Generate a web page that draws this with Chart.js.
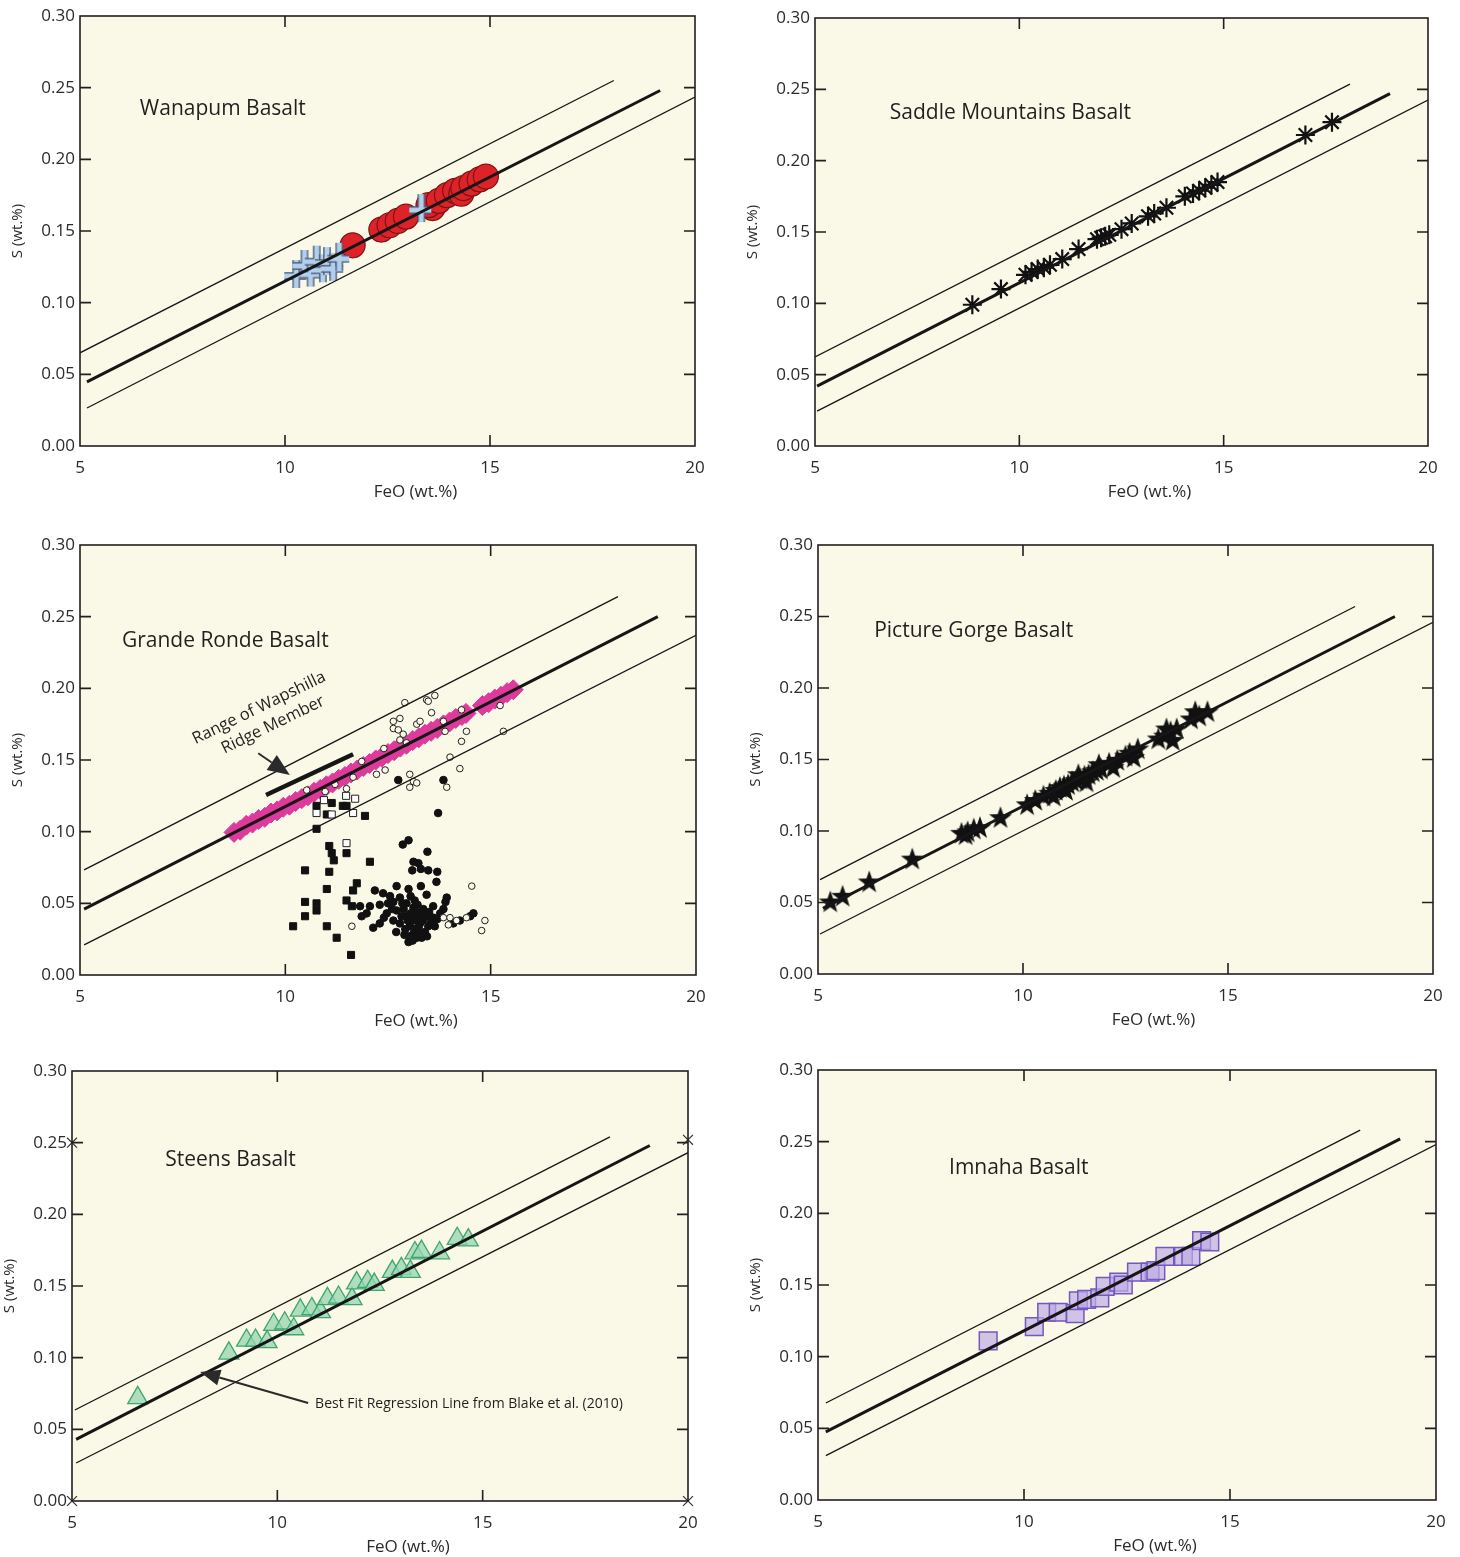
<!DOCTYPE html>
<html><head><meta charset="utf-8">
<script src="https://cdn.jsdelivr.net/npm/chart.js@4.4.1/dist/chart.umd.min.js"></script>
<style>
html,body{margin:0;padding:0;background:#fff;}
body{width:1460px;height:1557px;position:relative;overflow:hidden;}
canvas{position:absolute;}
</style></head>
<body>
<script>
// ---------- axis / tick data ----------
const xTickValues = [5, 10, 15, 20];
const xTickLabels = ['5', '10', '15', '20'];
const yTickValues = [0, 0.05, 0.10, 0.15, 0.20, 0.25, 0.30];
const yTickLabels = ['0.00', '0.05', '0.10', '0.15', '0.20', '0.25', '0.30'];
const xTitle = 'FeO (wt.%)';
const yTitle = 'S (wt.%)';
const panelTitles = ['Wanapum Basalt', 'Saddle Mountains Basalt', 'Grande Ronde Basalt',
                     'Picture Gorge Basalt', 'Steens Basalt', 'Imnaha Basalt'];

// ---------- regression line (Blake et al. 2010) and bounds, per panel [FeO, S] ----------
const wanMain = [[5.17, 0.0447], [19.15, 0.248]];
const wanUpper = [[5.0, 0.065], [18.02, 0.255]];
const wanLower = [[5.17, 0.0265], [20.0, 0.2435]];
const sadMain = [[5.05, 0.042], [19.07, 0.247]];
const sadUpper = [[5.0, 0.0624], [18.09, 0.2537]];
const sadLower = [[5.05, 0.0245], [20.0, 0.2425]];
const grMain = [[5.1, 0.046], [19.07, 0.25]];
const grUpper = [[5.1, 0.0733], [18.1, 0.264]];
const grLower = [[5.1, 0.021], [20.0, 0.237]];
const pgMain = [[5.12, 0.046], [19.07, 0.25]];
const pgUpper = [[5.05, 0.066], [18.1, 0.257]];
const pgLower = [[5.05, 0.028], [20.0, 0.246]];
const stMain = [[5.1, 0.043], [19.07, 0.248]];
const stUpper = [[5.07, 0.0635], [18.1, 0.254]];
const stLower = [[5.1, 0.0265], [20.0, 0.243]];
const imMain = [[5.19, 0.0475], [19.13, 0.252]];
const imUpper = [[5.19, 0.0677], [18.16, 0.258]];
const imLower = [[5.19, 0.031], [20.0, 0.248]];

// ---------- sample data [FeO, S] ----------
const wanapumRed = [[11.65,0.140],[12.35,0.151],[12.55,0.154],[12.75,0.157],[12.95,0.160],[13.6,0.166],
  [13.5,0.168],[13.75,0.171],[13.95,0.175],[14.15,0.178],[14.3,0.176],[14.35,0.180],[14.55,0.183],
  [14.75,0.186],[14.9,0.188]];
const wanapumBlue = [[10.25,0.120],[10.45,0.127],[10.6,0.121],[10.75,0.130],[10.9,0.124],[11.0,0.129],
  [11.15,0.125],[11.3,0.132],[13.3,0.166]];
const wanapumBlueBehind = [[12.7,0.156]];
const saddleAsterisk = [[8.85,0.099],[9.55,0.110],[10.15,0.120],[10.3,0.122],[10.45,0.124],[10.6,0.125],
  [10.75,0.127],[11.05,0.131],[11.45,0.138],[11.9,0.145],[12.0,0.146],[12.1,0.147],[12.2,0.148],
  [12.5,0.152],[12.75,0.156],[13.15,0.161],[13.3,0.163],[13.6,0.167],[14.05,0.175],[14.25,0.177],
  [14.4,0.179],[14.55,0.181],[14.7,0.183],[14.85,0.185],[17.0,0.218],[17.65,0.227]];
const grMagenta = [[8.75,0.0995],[8.9,0.1010],[9.05,0.1045],[9.2,0.1060],[9.35,0.1085],[9.5,0.1100],
  [9.65,0.1130],[9.8,0.1145],[9.95,0.1170],[10.1,0.1185],[10.25,0.1210],[10.4,0.1230],[10.55,0.1250],
  [10.7,0.1275],[10.85,0.1295],[11.0,0.1320],[11.15,0.1340],[11.3,0.1365],[11.45,0.1385],[11.6,0.1410],
  [11.75,0.1430],[11.9,0.1455],[12.05,0.1475],[12.2,0.1500],[12.35,0.1520],[12.5,0.1545],[12.65,0.1565],
  [12.8,0.1590],[12.95,0.1610],[13.1,0.1635],[13.25,0.1655],[13.4,0.1680],[13.55,0.1700],[13.7,0.1720],
  [13.85,0.1745],[14.0,0.1765],[14.15,0.1790],[14.3,0.1810],[14.4,0.1825],[14.8,0.1880],[14.95,0.1900],
  [15.1,0.1925],[15.25,0.1945],[15.4,0.1970],[15.55,0.1990]];
const grOpenCircle = [[12.91,0.190],[13.44,0.192],[13.64,0.195],[13.48,0.191],[12.63,0.177],[12.79,0.179],
  [12.63,0.172],[12.75,0.171],[12.87,0.168],[13.2,0.175],[13.28,0.177],[13.56,0.183],[14.29,0.185],
  [14.41,0.170],[14.29,0.163],[14.01,0.152],[14.25,0.144],[13.89,0.170],[13.85,0.177],[12.79,0.164],
  [12.95,0.162],[12.40,0.158],[11.86,0.149],[12.22,0.140],[12.43,0.143],[11.65,0.138],[11.21,0.133],
  [10.97,0.128],[10.52,0.129],[11.49,0.130],[13.03,0.140],[13.12,0.135],[13.2,0.134],[13.03,0.131],
  [13.93,0.131],[15.23,0.188],[15.31,0.170],[14.54,0.062],[13.85,0.040],[14.01,0.040],[14.17,0.038],
  [14.41,0.040],[14.86,0.038],[14.78,0.031],[13.97,0.035],[11.62,0.034]];
const grOpenSquare = [[10.76,0.113],[11.13,0.112],[11.48,0.125],[11.7,0.123],[11.65,0.113],[11.49,0.092],
  [10.94,0.122]];
const grFilledSquare = [[10.76,0.118],[11.13,0.120],[11.40,0.118],[11.49,0.118],[11.01,0.112],[11.94,0.111],
  [10.76,0.102],[11.07,0.090],[11.13,0.085],[11.18,0.080],[11.49,0.085],[12.06,0.079],[10.48,0.073],
  [11.07,0.072],[11.01,0.060],[10.48,0.051],[10.76,0.050],[10.76,0.045],[10.48,0.041],[10.19,0.034],
  [11.01,0.034],[11.25,0.026],[11.6,0.014],[11.65,0.059],[11.74,0.064],[11.49,0.052],[11.62,0.048]];
const grFilledCircle = [[13.0,0.094],[12.86,0.091],[13.46,0.086],[13.72,0.113],[12.75,0.136],[13.85,0.136],
  [13.12,0.079],[13.24,0.078],[13.30,0.074],[13.48,0.073],[13.70,0.072],[13.09,0.073],[13.68,0.065],
  [12.71,0.062],[13.44,0.056],[13.93,0.054],[13.90,0.051],[12.18,0.059],[12.38,0.057],[12.55,0.055],
  [12.06,0.048],[12.30,0.049],[12.63,0.051],[12.79,0.054],[12.95,0.050],[13.12,0.047],[13.28,0.043],
  [13.44,0.041],[13.60,0.040],[12.95,0.041],[12.79,0.036],[13.03,0.034],[13.12,0.029],[13.28,0.030],
  [13.0,0.023],[13.20,0.026],[12.63,0.038],[12.30,0.036],[12.14,0.033],[11.86,0.041],[11.98,0.043],
  [11.82,0.048],[12.47,0.043],[13.60,0.048],[13.77,0.043],[14.09,0.036],[14.25,0.038],[14.5,0.041],
  [14.58,0.043],[12.71,0.045],[12.83,0.041],[13.12,0.038],[13.28,0.036],[13.48,0.034],[13.64,0.034],
  [13.05,0.043],[13.2,0.040],[13.36,0.046],[13.15,0.052],[12.9,0.028],[13.1,0.024],
  [12.88,0.046],[12.98,0.038],[13.08,0.041],[13.18,0.044],[13.25,0.034],[13.35,0.038],[13.4,0.030],
  [12.92,0.032],[13.02,0.027],[13.15,0.032],[13.32,0.026],[12.85,0.050],[13.05,0.055],[13.22,0.049],
  [13.5,0.044],[13.55,0.037],[13.7,0.039],[12.6,0.046],[12.5,0.050],[12.4,0.040],[13.0,0.060],
  [13.3,0.062],[12.7,0.030],[13.45,0.027],[13.85,0.046]];
const wapshillaRange = [[9.53, 0.1256], [11.65, 0.154]];
const pictureGorgeStar = [[5.3,0.050],[5.6,0.054],[6.25,0.064],[7.3,0.080],[8.5,0.098],[8.65,0.099],
  [8.8,0.101],[8.95,0.102],[8.6,0.097],[9.45,0.109],[10.1,0.118],[10.3,0.121],[10.5,0.124],[10.65,0.126],
  [10.8,0.128],[10.9,0.130],[11.0,0.131],[11.1,0.132],[11.2,0.134],[11.3,0.135],[11.4,0.136],[11.5,0.138],
  [11.6,0.139],[11.7,0.141],[11.8,0.142],[11.9,0.143],[12.1,0.147],[12.3,0.149],[12.5,0.152],[12.6,0.154],
  [12.8,0.157],[13.3,0.164],[13.45,0.166],[13.6,0.169],[13.75,0.171],[14.1,0.178],[14.3,0.180],[14.5,0.183],
  [10.75,0.124],[11.05,0.128],[11.35,0.139],[11.55,0.134],[11.85,0.146],[12.2,0.144],[12.7,0.151],
  [13.5,0.171],[13.65,0.163],[14.2,0.183]];
const steensTriangle = [[6.60,0.072],[8.82,0.103],[9.25,0.112],[9.47,0.112],[9.75,0.111],[9.91,0.123],
  [10.18,0.124],[10.40,0.120],[10.56,0.133],[10.84,0.134],[11.05,0.132],[11.22,0.141],[11.49,0.142],
  [11.82,0.141],[11.93,0.152],[12.2,0.153],[12.36,0.151],[12.8,0.160],[13.02,0.162],[13.24,0.160],
  [13.35,0.173],[13.51,0.174],[13.95,0.173],[14.38,0.183],[14.65,0.182]];
const steensCornerMarks = [[5, 0.25], [20, 0.252], [5, 0], [20, 0]];
const imnahaSquare = [[9.13,0.111],[10.25,0.121],[10.55,0.131],[10.83,0.131],[11.24,0.130],[11.32,0.139],
  [11.52,0.140],[11.84,0.141],[11.97,0.149],[12.3,0.152],[12.41,0.150],[12.73,0.159],[13.06,0.159],
  [13.2,0.160],[13.42,0.170],[13.87,0.170],[14.05,0.170],[14.31,0.181],[14.51,0.180]];

// ---------- styles ----------
const FONT = '"Open Sans", "Noto Sans", "DejaVu Sans", sans-serif';
const BG = '#FAF8E7';
const INK = '#231F20';
Chart.defaults.font.family = FONT;

function makeStar() {
  const c = document.createElement('canvas'); c.width = 26; c.height = 26;
  const g = c.getContext('2d'); g.translate(13, 13); g.beginPath();
  for (let i = 0; i < 10; i++) {
    const r = i % 2 ? 4.8 : 12; const a = -Math.PI / 2 + i * Math.PI / 5;
    g.lineTo(r * Math.cos(a), r * Math.sin(a));
  }
  g.closePath(); g.fillStyle = '#111'; g.fill(); return c;
}
function makeBlueCross() {
  const c = document.createElement('canvas'); c.width = 40; c.height = 40;
  const g = c.getContext('2d'); g.translate(20, 20);
  const path = () => { g.beginPath(); g.moveTo(-11, 2); g.lineTo(11, 2); g.moveTo(1, -14); g.lineTo(1, 14); };
  g.lineCap = 'butt';
  path(); g.strokeStyle = '#45536B'; g.lineWidth = 7.5; g.stroke();
  path(); g.strokeStyle = '#B2D0EE'; g.lineWidth = 5; g.stroke();
  return c;
}
const starImg = makeStar();
const blueImg = makeBlueCross();

const pts = a => a.map(([x, y]) => ({x, y}));
const lineDs = (a, w) => ({data: pts(a), showLine: true, borderColor: '#161616', borderWidth: w,
  pointRadius: 0, fill: false});
const markDs = (a, s) => Object.assign({data: pts(a)}, s);

// ---------- plugin: plot background, frame, inward ticks, annotations ----------
const framePlugin = {
  id: 'frame',
  beforeDatasetsDraw(chart) {
    const {ctx, chartArea: a} = chart;
    ctx.save(); ctx.fillStyle = BG; ctx.fillRect(a.left, a.top, a.right - a.left, a.bottom - a.top); ctx.restore();
  },
  afterDraw(chart, args, opts) {
    const {ctx, chartArea: a, scales: {x, y}} = chart;
    ctx.save();
    ctx.strokeStyle = INK; ctx.lineWidth = 1.6;
    ctx.strokeRect(a.left, a.top, a.right - a.left, a.bottom - a.top);
    const L = 11; ctx.beginPath();
    x.ticks.forEach(t => { if (t.value <= x.min || t.value >= x.max) return;
      const p = x.getPixelForValue(t.value);
      ctx.moveTo(p, a.bottom); ctx.lineTo(p, a.bottom - L); ctx.moveTo(p, a.top); ctx.lineTo(p, a.top + L); });
    y.ticks.forEach(t => { if (t.value <= y.min || t.value >= y.max) return;
      const p = y.getPixelForValue(t.value);
      ctx.moveTo(a.left, p); ctx.lineTo(a.left + L, p); ctx.moveTo(a.right, p); ctx.lineTo(a.right - L, p); });
    ctx.stroke();
    // x axis title (offset right of centre as in the original figure)
    ctx.fillStyle = '#2b2b2b'; ctx.font = '17px ' + FONT; ctx.textAlign = 'center'; ctx.textBaseline = 'middle';
    ctx.fillText(xTitle, (a.left + a.right) / 2 + 28, a.bottom + 46);
    ctx.fillStyle = INK;
    (opts.texts || []).forEach(t => {
      ctx.save();
      ctx.translate(x.getPixelForValue(t.x), y.getPixelForValue(t.y));
      ctx.rotate((t.rot || 0) * Math.PI / 180);
      ctx.font = (t.size || 21) + 'px ' + FONT;
      ctx.textAlign = t.align || 'left'; ctx.textBaseline = 'middle';
      ctx.fillText(t.t, 0, 0);
      ctx.restore();
    });
    (opts.arrows || []).forEach(ar => {
      const x1 = x.getPixelForValue(ar.from[0]), y1 = y.getPixelForValue(ar.from[1]);
      const x2 = x.getPixelForValue(ar.to[0]), y2 = y.getPixelForValue(ar.to[1]);
      const ang = Math.atan2(y2 - y1, x2 - x1), hl = ar.head || 20, hw = ar.hw || 8;
      const bx = x2 - hl * Math.cos(ang), by = y2 - hl * Math.sin(ang);
      ctx.strokeStyle = '#2a2a2a'; ctx.lineWidth = 2;
      ctx.beginPath(); ctx.moveTo(x1, y1); ctx.lineTo(bx, by); ctx.stroke();
      ctx.fillStyle = '#2a2a2a'; ctx.beginPath(); ctx.moveTo(x2, y2);
      ctx.lineTo(bx + hw * Math.sin(ang), by - hw * Math.cos(ang));
      ctx.lineTo(bx - hw * Math.sin(ang), by + hw * Math.cos(ang)); ctx.closePath(); ctx.fill();
    });
    ctx.restore();
  }
};

// ---------- panel layout: plot area [left, top, right, bottom] in page pixels ----------
const boxes = [[80, 16, 695, 446], [815, 18, 1428, 446], [80, 545, 696, 975],
               [818, 545, 1433, 974], [72, 1071, 688, 1501], [818, 1070, 1436, 1500]];
const PADL = 80, PADT = 20, PADR = 30, PADB = 70;

function makeChart(i, datasets, extra) {
  const [l, t, r, b] = boxes[i];
  const cv = document.createElement('canvas');
  cv.width = (r - l) + PADL + PADR; cv.height = (b - t) + PADT + PADB;
  cv.style.left = (l - PADL) + 'px'; cv.style.top = (t - PADT) + 'px';
  document.body.appendChild(cv);
  const tickFont = {size: 17, family: FONT};
  new Chart(cv, {
    type: 'scatter',
    data: {datasets},
    options: {
      responsive: false, animation: false, events: [],
      layout: {padding: {top: PADT, right: PADR, left: 0, bottom: 0}},
      plugins: {legend: {display: false}, tooltip: {enabled: false},
        frame: {texts: [{t: panelTitles[i], x: extra.title[0], y: extra.title[1], size: 21}].concat(extra.texts || []),
                arrows: extra.arrows || []}},
      scales: {
        x: {type: 'linear', min: 5, max: 20,
          afterBuildTicks: s => { s.ticks = xTickValues.map(v => ({value: v})); },
          afterFit: s => { s.height = PADB; },
          ticks: {callback: (v, k) => xTickLabels[k], padding: 12, font: tickFont, color: '#2b2b2b', maxRotation: 0, autoSkip: false},
          grid: {display: false, drawTicks: false}, border: {display: false},
          title: {display: false}},
        y: {type: 'linear', min: 0, max: 0.30,
          afterBuildTicks: s => { s.ticks = yTickValues.map(v => ({value: v})); },
          afterFit: s => { s.width = PADL; },
          ticks: {callback: (v, k) => yTickLabels[k], padding: 5, font: tickFont, color: '#2b2b2b', autoSkip: false},
          grid: {display: false, drawTicks: false}, border: {display: false},
          title: {display: true, text: yTitle, font: {size: 15, family: FONT}, color: '#2b2b2b', padding: {top: 9, bottom: 0}}}
      }
    },
    plugins: [framePlugin]
  });
}

// Wanapum
makeChart(0, [
  lineDs(wanMain, 3), lineDs(wanUpper, 1.3), lineDs(wanLower, 1.3),
  markDs(wanapumBlue, {pointStyle: blueImg, pointRadius: 12}),
  markDs(wanapumRed, {pointStyle: 'circle', pointRadius: 12.5, backgroundColor: '#DD2328', borderColor: '#7E1216', borderWidth: 1.2}),
  markDs(wanapumBlueBehind, {pointStyle: blueImg, pointRadius: 12, pointRotation: 45})
], {title: [6.46, 0.235]});

// Saddle Mountains
makeChart(1, [
  lineDs(sadMain, 3), lineDs(sadUpper, 1.3), lineDs(sadLower, 1.3),
  markDs(saddleAsterisk, {pointStyle: 'star', pointRadius: 9.5, borderColor: '#111', borderWidth: 2.2, backgroundColor: '#111'})
], {title: [6.83, 0.2334]});

// Grande Ronde
makeChart(2, [
  lineDs(grMain, 3), lineDs(grUpper, 1.3), lineDs(grLower, 1.3), lineDs(wapshillaRange, 4.5),
  markDs(grOpenCircle, {pointStyle: 'circle', pointRadius: 3.3, backgroundColor: BG, borderColor: '#222', borderWidth: 1}),
  markDs(grOpenSquare, {pointStyle: 'rect', pointRadius: 5, backgroundColor: '#fff', borderColor: '#222', borderWidth: 1}),
  markDs(grFilledCircle, {pointStyle: 'circle', pointRadius: 3.8, backgroundColor: '#111', borderColor: '#111', borderWidth: 1}),
  markDs(grFilledSquare, {pointStyle: 'rect', pointRadius: 5, backgroundColor: '#111', borderColor: '#111', borderWidth: 1}),
  markDs(grMagenta, {pointStyle: 'rectRot', pointRadius: 10, backgroundColor: '#DE3A9C', borderColor: '#DE3A9C', borderWidth: 1})
], {title: [6.02, 0.233],
    texts: [{t: 'Range of Wapshilla', x: 9.36, y: 0.1863, rot: -26, size: 16.5, align: 'center'},
            {t: 'Ridge Member', x: 9.70, y: 0.1745, rot: -26, size: 16.5, align: 'center'}],
    arrows: [{from: [9.34, 0.1547], to: [10.11, 0.1396], head: 22, hw: 9}]});

// Picture Gorge
makeChart(3, [
  lineDs(pgMain, 3), lineDs(pgUpper, 1.3), lineDs(pgLower, 1.3),
  markDs(pictureGorgeStar, {pointStyle: starImg, pointRadius: 12})
], {title: [6.37, 0.240]});

// Steens
makeChart(4, [
  lineDs(stMain, 3), lineDs(stUpper, 1.3), lineDs(stLower, 1.3),
  markDs(steensCornerMarks, {pointStyle: 'crossRot', pointRadius: 7, borderColor: '#333', borderWidth: 1.2, clip: false}),
  markDs(steensTriangle, {pointStyle: 'triangle', pointRadius: 11.5, backgroundColor: 'rgba(150,214,178,0.75)', borderColor: '#3FA56E', borderWidth: 1.3})
], {title: [7.27, 0.238],
    texts: [{t: 'Best Fit Regression Line from Blake et al. (2010)', x: 10.92, y: 0.068, size: 14}],
    arrows: [{from: [10.75, 0.0684], to: [8.12, 0.090], head: 20, hw: 8}]});

// Imnaha
makeChart(5, [
  lineDs(imMain, 3), lineDs(imUpper, 1.3), lineDs(imLower, 1.3),
  markDs(imnahaSquare, {pointStyle: 'rect', pointRadius: 12.5, backgroundColor: 'rgba(190,172,230,0.7)', borderColor: '#7358BE', borderWidth: 1.5})
], {title: [8.18, 0.2317]});
</script>
</body></html>
